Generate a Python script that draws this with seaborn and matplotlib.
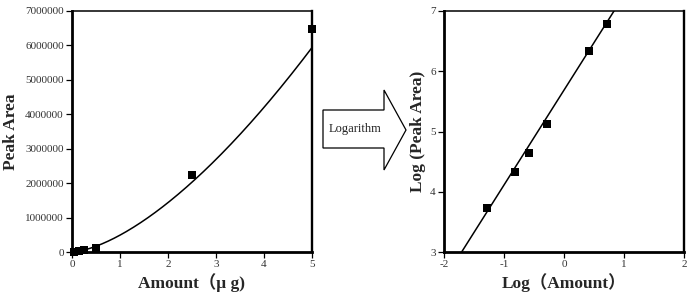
import numpy as np
import pandas as pd
import matplotlib
matplotlib.use("Agg")
import matplotlib.pyplot as plt
import seaborn as sns
from matplotlib.patches import Polygon

# ---- data ----
amount_ug = [0.05, 0.15, 0.25, 0.5, 2.5, 5.0]
peak_area = [5000, 20000, 45000, 110000, 2250000, 6480000]
# power-law fit drawn in left panel: y = a * x^b
fit_a = 490000
fit_b = 1.55

log_amount = [-1.28, -0.81, -0.58, -0.29, 0.42, 0.71]
log_peak = [3.73, 4.33, 4.64, 5.13, 6.34, 6.79]
# linear fit in right panel: y = slope * x + intercept
fit_slope = 1.575
fit_intercept = 5.687

left_xticks = [0, 1, 2, 3, 4, 5]
left_yticks = [0, 1000000, 2000000, 3000000, 4000000, 5000000, 6000000, 7000000]
right_xticks = [-2, -1, 0, 1, 2]
right_yticks = [3, 4, 5, 6, 7]

sns.set_theme(style="ticks")
plt.rcParams['font.family'] = ['Liberation Serif', 'Noto Sans CJK SC', 'DejaVu Sans']
plt.rcParams['axes.unicode_minus'] = False

fig = plt.figure(figsize=(6.88, 2.94), dpi=100)
fig.patch.set_facecolor("white")
W, H = 688, 294

def ax_at(x0, y0, x1, y1):
    return fig.add_axes([x0 / W, 1 - y1 / H, (x1 - x0) / W, (y1 - y0) / H])

axL = ax_at(72, 11, 312, 252)
axR = ax_at(444, 11, 684, 252)

tick_color = "#333333"

def style(ax):
    ax.set_facecolor("white")
    ax.spines['left'].set_linewidth(2.0)
    ax.spines['bottom'].set_linewidth(2.0)
    ax.spines['right'].set_linewidth(1.7)
    ax.spines['top'].set_linewidth(1.1)
    for s in ax.spines.values():
        s.set_color("black")
        s.set_visible(True)
    ax.tick_params(direction="out", length=4, width=0.9, labelsize=8,
                   colors="black", labelcolor=tick_color, pad=2)
    ax.grid(False)

# ---- left panel ----
xc = np.linspace(0, 5, 200)
curve = pd.DataFrame({"x": xc, "y": fit_a * xc ** fit_b})
sns.lineplot(data=curve, x="x", y="y", ax=axL, color="black", linewidth=1.1)
dfL = pd.DataFrame({"x": amount_ug, "y": peak_area})
sns.scatterplot(data=dfL, x="x", y="y", ax=axL, marker="s", color="black",
                s=36, edgecolor="black", linewidth=0, zorder=5, clip_on=False)
axL.set_xlim(0, 5)
axL.set_ylim(0, 7000000)
axL.set_xticks(left_xticks)
axL.set_yticks(left_yticks)
axL.set_xticklabels([str(v) for v in left_xticks])
axL.set_yticklabels([str(v) for v in left_yticks])
style(axL)
axL.set_xlabel("Amount（μ g)", fontsize=12.5, fontweight="bold", labelpad=3)
axL.set_ylabel("Peak Area", fontsize=12.5, fontweight="bold", labelpad=4)

# ---- right panel ----
xl = np.linspace(-2, 2, 200)
line = pd.DataFrame({"x": xl, "y": fit_slope * xl + fit_intercept})
sns.lineplot(data=line, x="x", y="y", ax=axR, color="black", linewidth=1.1)
dfR = pd.DataFrame({"x": log_amount, "y": log_peak})
sns.scatterplot(data=dfR, x="x", y="y", ax=axR, marker="s", color="black",
                s=36, edgecolor="black", linewidth=0, zorder=5)
axR.set_xlim(-2, 2)
axR.set_ylim(3, 7)
axR.set_xticks(right_xticks)
axR.set_yticks(right_yticks)
axR.set_xticklabels([str(v) for v in right_xticks])
axR.set_yticklabels([str(v) for v in right_yticks])
style(axR)
axR.set_xlabel("Log（Amount）", fontsize=12.5, fontweight="bold", labelpad=3)
axR.set_ylabel("Log (Peak Area)", fontsize=12.5, fontweight="bold", labelpad=3)

# ---- block arrow between panels ----
pts = [(323, 110), (384, 110), (384, 90), (406, 130), (384, 170), (384, 148), (323, 148)]
poly = Polygon([(x / W, 1 - y / H) for x, y in pts], closed=True,
               transform=fig.transFigure, facecolor="white", edgecolor="black",
               linewidth=0.9)
fig.patches.append(poly)
fig.text(355 / W, 1 - 129 / H, "Logarithm", ha="center", va="center",
         fontsize=9, color="#222222")

fig.savefig("out.png", dpi=100, facecolor="white")
